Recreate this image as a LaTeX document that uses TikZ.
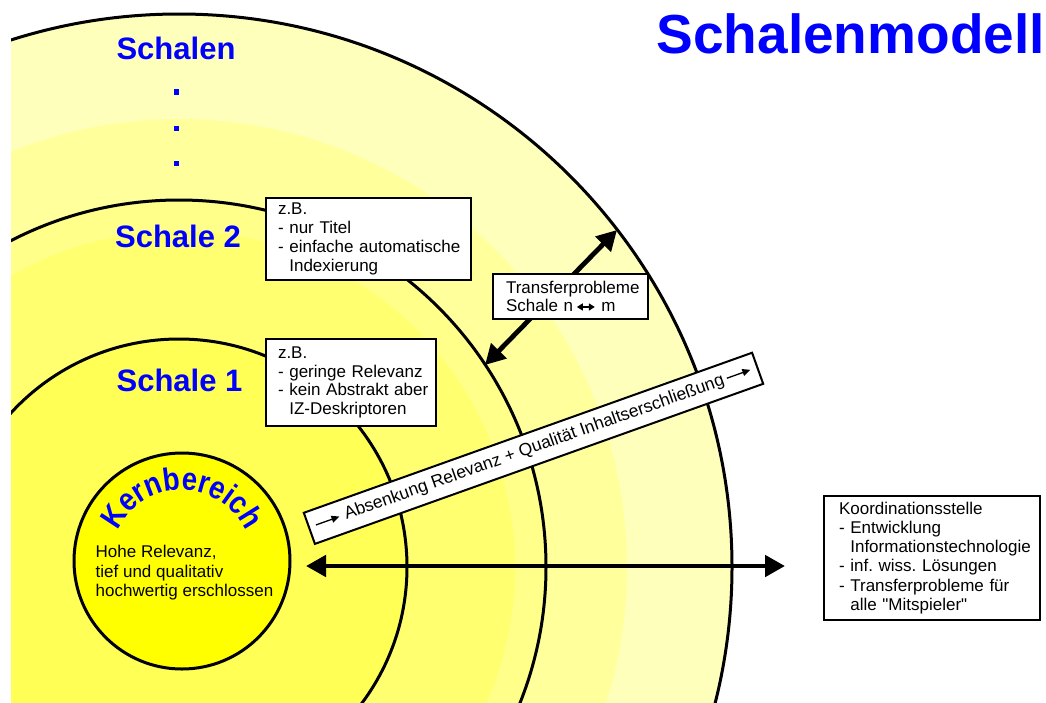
\documentclass[tikz,border=0pt]{standalone}
\usepackage{fontspec}
\setmainfont{Liberation Sans}
\newfontfamily\kernfont[FakeStretch=0.86]{Liberation Sans}
\usetikzlibrary{arrows.meta,decorations.text}
\definecolor{tblue}{RGB}{0,0,255}
\definecolor{ykern}{RGB}{255,255,0}
\definecolor{yA}{RGB}{255,255,85}
\definecolor{yB}{RGB}{255,255,112}
\definecolor{yC}{RGB}{255,255,138}
\definecolor{yD}{RGB}{255,255,156}
\definecolor{yE}{RGB}{255,255,188}
\newcommand{\absarrow}{\tikz[baseline=-5.5pt]\draw[black,line width=1.3pt,-{Triangle[length=8pt,width=7pt]}] (0pt,0pt) -- (25pt,0pt);}
\newcommand{\dblarrow}{\tikz[baseline=-5pt]\draw[black,line width=1.8pt,{Triangle[length=6pt,width=7pt]}-{Triangle[length=6pt,width=7pt]}] (0pt,0pt) -- (18pt,0pt);}
\frenchspacing
\begin{document}
\begin{tikzpicture}[x=1pt,y=-1pt,
  shell/.style={draw=black,line width=3pt},
  infobox/.style={draw=black,line width=2pt,fill=white,anchor=north west,align=left,
    inner xsep=12pt,inner ysep=0pt,font=\fontsize{17}{18.8}\selectfont},
  shelltitle/.style={text=tblue,inner sep=0pt,font=\bfseries\fontsize{31}{31}\selectfont},
  bigarrow/.style={line width=4.8pt,{Triangle[length=20pt,width=21pt]}-{Triangle[length=20pt,width=21pt]}},
  bluedot/.style={fill=tblue,minimum size=5.5pt,inner sep=0pt}
]
\useasboundingbox (0,0) rectangle (1046,702);
\coordinate (c) at (179,567);
\begin{scope}
  \clip (11,0) rectangle (1046,702);
  \fill[yE] (c) circle (553);
  \fill[yD] (c) circle (448);
  \fill[yC] (c) circle (367);
  \fill[yB] (c) circle (336);
  \fill[yA] (c) circle (228);
  \draw[shell] (c) circle (553);
  \draw[shell] (c) circle (367);
  \draw[shell] (c) circle (228);
\end{scope}
% kernel
\node[circle,draw=black,line width=3pt,fill=ykern,minimum size=216pt,inner sep=0pt] (kern) at (182,561) {};
\path[decorate,decoration={text along path,text={|\kernfont\bfseries\fontsize{32}{32}\selectfont|Kernbereich},
  text align=center,text color=tblue}]
  (kern.center) ++(182:71) arc[start angle=182,end angle=358,radius=71];
\node[anchor=north west,align=left,inner sep=0pt,font=\fontsize{17}{19.5}\selectfont] (kerntext) at (95.5,545)
  {Hohe Relevanz,\\tief und qualitativ\\hochwertig erschlossen};
% arrows
\coordinate (hl) at (306,566);
\coordinate (hr) at (785,566);
\draw[bigarrow] (hl) -- (hr);
\coordinate (dl) at (485,365);
\coordinate (du) at (617,230);
\draw[bigarrow] (dl) -- (du);
% boxes
\node[infobox,minimum width=205pt,minimum height=82pt,text width=181pt] (box2) at (265,197)
  {z.B.\\- nur Titel\\\mbox{- einfache automatische}\\\hphantom{- }Indexierung};
\node[infobox,minimum width=170pt,minimum height=87pt,text width=146pt] (box1) at (265,338)
  {z.B.\\- geringe Relevanz\\\mbox{- kein Abstrakt aber}\\\hphantom{- }IZ-Deskriptoren};
\node[infobox,inner xsep=13pt,minimum width=155pt,minimum height=45pt,text width=129pt] (transfer) at (492,273)
  {Transferprobleme\\Schale n\,\dblarrow\ m};
\node[infobox,inner xsep=15pt,minimum width=216pt,minimum height=124pt,text width=186pt,
  font=\fontsize{17}{19.1}\selectfont] (koord) at (823,495)
  {Koordinationsstelle\\- Entwicklung\\\hphantom{- }\mbox{Informationstechnologie}\\- inf. wiss. Lösungen\\\mbox{- Transferprobleme für}\\\hphantom{- }alle \textquotedbl Mitspieler\textquotedbl};
\node[draw=black,line width=2pt,fill=white,rotate=19.65,minimum width=476pt,minimum height=33pt,
  inner sep=0pt,font=\fontsize{17.5}{17.5}\selectfont] (absenk) at (533.5,448.3)
  {\absarrow\ Absenkung Relevanz + Qualität Inhaltserschließung\,\absarrow};
% labels
\node[shelltitle,anchor=base] (schalen) at (176,59) {Schalen};
\node[bluedot] (d1) at (176.5,92) {};
\node[bluedot] (d2) at (176.5,128.5) {};
\node[bluedot] (d3) at (176.5,163.5) {};
\node[shelltitle,anchor=base] (schale2) at (178,247) {Schale 2};
\node[shelltitle,anchor=base] (schale1) at (179.5,391) {Schale 1};
\node[text=tblue,inner sep=0pt,font=\bfseries\fontsize{55}{55}\selectfont,anchor=base east] (title) at (1045,53) {Schalenmodell};
\end{tikzpicture}
\end{document}
